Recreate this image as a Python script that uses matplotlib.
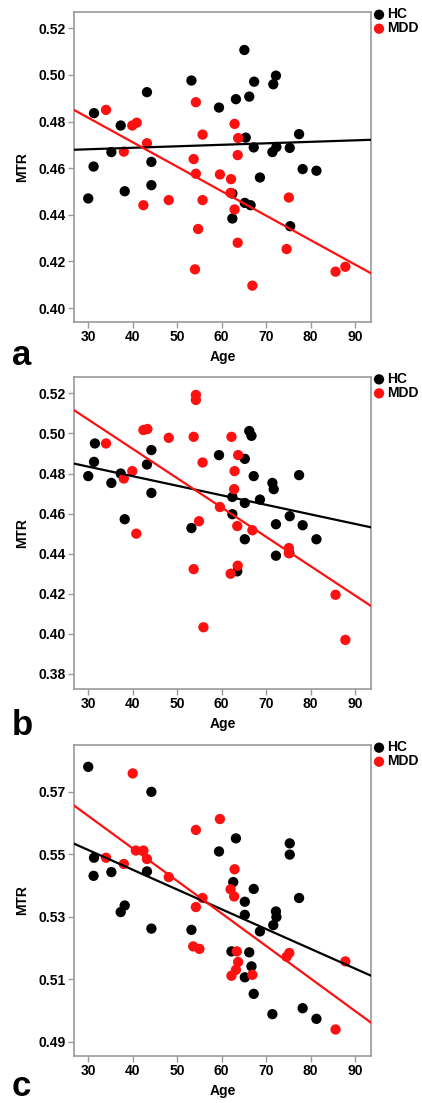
import numpy as np
import matplotlib.pyplot as plt

plt.rcParams['font.family'] = ['Liberation Sans', 'DejaVu Sans']
plt.rcParams['font.weight'] = 'bold'

# panel a
a_hc_age = [30.0, 31.3, 31.2, 35.2, 37.3, 38.2, 43.2, 44.2, 44.2, 53.2, 59.4, 63.2, 65.1, 66.2, 67.3,
            71.6, 72.2, 65.4, 67.2, 71.4, 72.3, 75.3, 77.4, 78.2, 81.3, 62.4, 68.6, 65.2, 66.5, 62.4, 75.4]
a_hc_mtr = [0.447, 0.4836, 0.4607, 0.4669, 0.4783, 0.4501, 0.4926, 0.4627, 0.4527, 0.4976, 0.486, 0.4896,
            0.5107, 0.4907, 0.4971, 0.496, 0.4997, 0.4731, 0.4689, 0.4669, 0.4691, 0.4687, 0.4746, 0.4596,
            0.4589, 0.4491, 0.456, 0.4451, 0.4441, 0.4384, 0.4351]
a_mdd_age = [34.0, 38.0, 39.9, 40.9, 43.2, 54.2, 55.7, 53.7, 54.2, 59.6, 62.1, 62.9, 63.7, 63.6, 62.0,
             62.9, 42.4, 48.1, 55.7, 54.7, 54.0, 63.6, 66.9, 75.1, 74.6, 85.6, 87.8]
a_mdd_mtr = [0.485, 0.4671, 0.4783, 0.4795, 0.4707, 0.4883, 0.4744, 0.4639, 0.4576, 0.4573, 0.4553, 0.479,
             0.4729, 0.4656, 0.4494, 0.4423, 0.4441, 0.4463, 0.4463, 0.4339, 0.4166, 0.428, 0.4096, 0.4474,
             0.4253, 0.4156, 0.4177]

# panel b
b_hc_age = [30.0, 31.3, 31.5, 35.2, 37.3, 38.2, 43.2, 44.2, 44.2, 53.2, 59.4, 62.4, 62.4, 65.2, 65.2,
            66.2, 66.7, 67.2, 68.6, 71.4, 71.7, 72.2, 75.3, 77.4, 78.2, 81.3, 65.2, 72.2, 75.2, 63.5]
b_hc_mtr = [0.4787, 0.4858, 0.495, 0.4753, 0.48, 0.4572, 0.4845, 0.4917, 0.4703, 0.4528, 0.4892, 0.4683,
            0.4597, 0.4873, 0.4653, 0.5012, 0.4988, 0.4787, 0.467, 0.4753, 0.4722, 0.4547, 0.4587, 0.4792,
            0.4542, 0.4472, 0.4472, 0.439, 0.4403, 0.4312]
b_mdd_age = [34.0, 38.0, 39.9, 40.8, 42.4, 43.3, 48.1, 54.2, 54.2, 53.7, 55.7, 54.9, 59.6, 62.2, 63.7,
             62.9, 62.8, 63.5, 66.9, 75.1, 75.1, 53.7, 62.0, 63.6, 55.9, 85.6, 87.8]
b_mdd_mtr = [0.495, 0.4775, 0.4812, 0.45, 0.5017, 0.5022, 0.4978, 0.5192, 0.5167, 0.4983, 0.4855, 0.4562,
             0.4633, 0.4983, 0.4892, 0.4812, 0.4722, 0.4538, 0.4517, 0.4428, 0.4403, 0.4323, 0.43, 0.434,
             0.4033, 0.4195, 0.397]

# panel c
c_hc_age = [30.0, 44.2, 31.3, 31.2, 35.2, 37.3, 38.2, 43.2, 44.2, 53.2, 59.4, 63.2, 62.6, 65.2, 65.2,
            67.2, 68.6, 72.2, 72.3, 71.6, 75.3, 75.3, 77.4, 78.2, 81.3, 71.4, 67.2, 65.2, 62.2, 66.2, 66.7]
c_hc_mtr = [0.578, 0.570, 0.5489, 0.5431, 0.5443, 0.5315, 0.5336, 0.5445, 0.5262, 0.5258, 0.5509, 0.5551,
            0.5411, 0.5348, 0.5306, 0.5389, 0.5253, 0.5317, 0.5299, 0.5273, 0.5535, 0.5499, 0.536, 0.5007,
            0.4973, 0.4988, 0.5053, 0.5106, 0.5189, 0.5186, 0.5141]
c_mdd_age = [40.0, 34.0, 38.0, 40.7, 42.4, 43.2, 48.1, 54.2, 59.6, 62.9, 62.0, 62.8, 55.7, 54.2, 53.6,
             55.0, 63.4, 63.7, 63.2, 62.2, 66.9, 74.6, 75.2, 87.8, 85.6]
c_mdd_mtr = [0.5759, 0.5489, 0.5469, 0.5512, 0.5512, 0.5485, 0.5427, 0.5578, 0.5613, 0.5452, 0.5388, 0.5365,
             0.536, 0.5331, 0.5205, 0.5197, 0.5189, 0.5155, 0.513, 0.5111, 0.5114, 0.5172, 0.5184, 0.5157,
             0.4939]

panels = [
    ('a', a_hc_age, a_hc_mtr, a_mdd_age, a_mdd_mtr, (0.394, 0.527), np.arange(0.40, 0.521, 0.02)),
    ('b', b_hc_age, b_hc_mtr, b_mdd_age, b_mdd_mtr, (0.3725, 0.5283), np.arange(0.38, 0.521, 0.02)),
    ('c', c_hc_age, c_hc_mtr, c_mdd_age, c_mdd_mtr, (0.4854, 0.585), np.arange(0.49, 0.571, 0.02)),
]
# axes boxes in pixels: top, bottom
boxes = [(12, 322), (376.7, 689), (745, 1056)]
letter_y = [365, 735, 1096]

W, H = 422, 1103
fig = plt.figure(figsize=(W / 100, H / 100), dpi=100)
red = '#ff1010'
frame = '#9a9a9a'

for (lab, hx, hy, mx, my, ylim, yt), (top, bot), ly in zip(panels, boxes, letter_y):
    ax = fig.add_axes([74 / W, 1 - bot / H, (370.7 - 74) / W, (bot - top) / H])
    ax.scatter(hx, hy, s=55, color='black', edgecolors='none', label='HC', zorder=3)
    ax.scatter(mx, my, s=55, color=red, edgecolors='none', label='MDD', zorder=3)
    xs = np.array([26.8, 93.5])
    for x, y, c in [(hx, hy, 'black'), (mx, my, red)]:
        k, b = np.polyfit(x, y, 1)
        ax.plot(xs, k * xs + b, color=c, lw=1.6, zorder=4)
    ax.set_xlim(26.8, 93.5)
    ax.set_ylim(*ylim)
    ax.set_xticks([30, 40, 50, 60, 70, 80, 90])
    ax.set_yticks(yt)
    ax.set_yticklabels(['%.2f' % v for v in yt])
    ax.tick_params(direction='out', length=4, width=1, color=frame, labelsize=10, pad=2)
    for sp in ax.spines.values():
        sp.set_color(frame)
        sp.set_linewidth(1.2)
    ax.set_xlabel('Age', fontsize=10, fontweight='bold', labelpad=4)
    ax.set_ylabel('MTR', fontsize=10, fontweight='bold', labelpad=7)
    ax.legend(loc='upper left', bbox_to_anchor=(1.0, 1.015), frameon=False, fontsize=10,
              handletextpad=0.0, borderpad=0.0, borderaxespad=0.0, labelspacing=0.0,
              markerscale=1.0, handlelength=1.2)
    fig.text(12 / W, 1 - ly / H, lab, fontsize=25, fontweight='bold', va='baseline', ha='left')

fig.savefig('out.png', dpi=100)
